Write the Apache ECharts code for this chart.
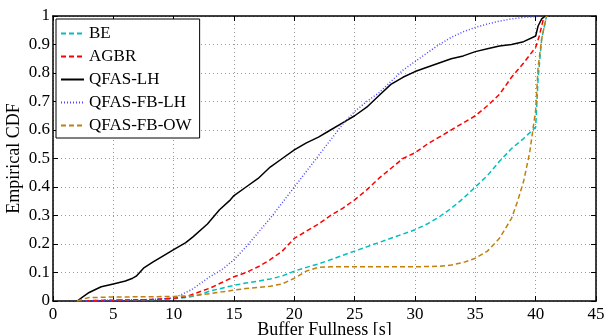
<!DOCTYPE html>
<html>
<head>
<meta charset="utf-8">
<script src="https://cdn.jsdelivr.net/npm/echarts@6/dist/echarts.min.js"></script>
<style>
  html, body { margin: 0; padding: 0; background: #fff; }
  #chart { width: 606px; height: 335px; }
</style>
</head>
<body>
<div id="chart"></div>
<script>
// values
const xTicks = [0, 5, 10, 15, 20, 25, 30, 35, 40, 45];

const beX = [2, 5, 8, 10, 11, 12, 13, 14, 15, 16, 17, 18, 19, 20, 21, 22, 23, 24, 25, 26, 27, 28, 29, 30, 31, 32, 33, 34, 35, 36, 37, 38, 39, 40, 40.2, 40.5, 40.9];
const beY = [0, 0.002, 0.004, 0.008, 0.012, 0.02, 0.035, 0.045, 0.055, 0.063, 0.07, 0.077, 0.088, 0.105, 0.118, 0.13, 0.145, 0.16, 0.175, 0.19, 0.205, 0.22, 0.235, 0.25, 0.27, 0.295, 0.325, 0.36, 0.40, 0.44, 0.49, 0.535, 0.57, 0.61, 0.78, 0.92, 1];

const agbrX = [2, 5, 8, 10, 11, 12, 13, 14, 15, 16, 17, 18, 19, 20, 21, 22, 23, 24, 25, 26, 27, 28, 29, 30, 31, 32, 33, 34, 35, 36, 37, 38, 39, 40, 40.3, 40.7];
const agbrY = [0, 0.003, 0.005, 0.01, 0.015, 0.03, 0.045, 0.065, 0.085, 0.10, 0.12, 0.145, 0.175, 0.22, 0.245, 0.27, 0.30, 0.325, 0.355, 0.39, 0.43, 0.465, 0.50, 0.52, 0.55, 0.575, 0.60, 0.625, 0.65, 0.685, 0.725, 0.785, 0.835, 0.89, 0.93, 1];

const lhX = [2, 2.5, 3, 3.6, 4, 5, 6, 6.6, 6.9, 7.5, 8.3, 9, 10, 11, 11.6, 12.8, 13.8, 14.7, 15, 16, 17, 18, 19, 20, 21, 22, 23, 24, 25, 26, 27, 28, 29, 30, 31, 32, 33, 34, 35, 36, 37, 38, 39, 40, 40.2, 40.5, 40.8];
const lhY = [0, 0.015, 0.03, 0.042, 0.05, 0.06, 0.07, 0.08, 0.087, 0.115, 0.137, 0.155, 0.18, 0.205, 0.225, 0.27, 0.32, 0.355, 0.37, 0.40, 0.43, 0.47, 0.50, 0.53, 0.555, 0.575, 0.60, 0.625, 0.65, 0.68, 0.72, 0.76, 0.785, 0.805, 0.82, 0.835, 0.85, 0.86, 0.875, 0.885, 0.895, 0.90, 0.91, 0.93, 0.965, 0.99, 1];

const fbLhX = [2, 5, 8, 10, 10.5, 11, 11.5, 12, 13, 14, 15, 16, 17, 18, 19, 20, 21, 22, 23, 24, 25, 26, 27, 28, 29, 30, 31, 32, 33, 34, 35, 36, 37, 38, 39, 40, 40.3];
const fbLhY = [0, 0.003, 0.005, 0.01, 0.02, 0.03, 0.04, 0.055, 0.085, 0.11, 0.145, 0.19, 0.24, 0.29, 0.345, 0.40, 0.455, 0.51, 0.565, 0.62, 0.665, 0.70, 0.73, 0.77, 0.81, 0.84, 0.87, 0.90, 0.925, 0.945, 0.96, 0.972, 0.982, 0.99, 0.995, 0.998, 1];

const fbOwX = [2, 2.5, 3, 5, 8, 10, 11, 12, 13, 14, 15, 16, 17, 18, 19, 20, 21, 22, 23, 25, 28, 30, 32, 33, 34, 35, 36, 37, 38, 38.5, 39, 39.5, 40, 40.2, 40.5, 40.9];
const fbOwY = [0, 0.007, 0.012, 0.014, 0.015, 0.016, 0.018, 0.02, 0.026, 0.032, 0.038, 0.044, 0.048, 0.052, 0.06, 0.08, 0.105, 0.118, 0.12, 0.12, 0.12, 0.12, 0.122, 0.126, 0.135, 0.15, 0.175, 0.22, 0.29, 0.35, 0.42, 0.52, 0.67, 0.82, 0.92, 1];

const seriesDefs = [
  { name: 'BE', xs: beX, ys: beY, color: '#00bfbf', type: [5, 3], width: 1.5 },
  { name: 'AGBR', xs: agbrX, ys: agbrY, color: '#ff0000', type: [5, 3], width: 1.5 },
  { name: 'QFAS-LH', xs: lhX, ys: lhY, color: '#000000', type: 'solid', width: 1.5 },
  { name: 'QFAS-FB-LH', xs: fbLhX, ys: fbLhY, color: '#4848ff', type: [1, 2], width: 1.5 },
  { name: 'QFAS-FB-OW', xs: fbOwX, ys: fbOwY, color: '#bf8010', type: [5, 3], width: 1.5 },
];

const font = 'Liberation Serif, Times New Roman, serif';

const gridLine = { show: true, lineStyle: { color: '#999', type: [1, 3], width: 1 } };
const boxLine = { show: true, onZero: false, lineStyle: { color: '#000', width: 1.5 } };
const tick = { show: true, inside: true, length: 5, lineStyle: { color: '#000', width: 1 } };

const chart = echarts.init(document.getElementById('chart'));

chart.setOption({
  animation: false,
  backgroundColor: '#fff',
  grid: { left: 53, right: 10, top: 16, bottom: 34, outerBoundsMode: 'none', containLabel: false },
  legend: {
    orient: 'vertical',
    left: 56,
    top: 19,
    padding: [6, 8, 4, 4],
    itemWidth: 23,
    itemHeight: 14,
    itemGap: 6,
    borderColor: '#000',
    borderWidth: 1,
    borderRadius: 0,
    backgroundColor: '#fff',
    itemStyle: { opacity: 0 },
    textStyle: { fontFamily: font, fontSize: 17, color: '#000' },
    data: seriesDefs.map((s) => s.name),
  },
  xAxis: [
    {
      type: 'value', min: 0, max: 45, interval: 5,
      name: 'Buffer Fullness [s]', nameLocation: 'middle', nameGap: 20, nameMoveOverlap: false,
      nameTextStyle: { fontFamily: font, fontSize: 18, color: '#000' },
      axisLine: boxLine, axisTick: tick, splitLine: gridLine,
      axisLabel: { fontFamily: font, fontSize: 17, color: '#000', margin: 5 },
    },
    {
      type: 'value', position: 'top', min: 0, max: 45, interval: 5,
      axisLine: boxLine, axisTick: tick, splitLine: { show: false },
      axisLabel: { show: false },
    },
  ],
  yAxis: [
    {
      type: 'value', min: 0, max: 1, interval: 0.1,
      name: 'Empirical CDF', nameLocation: 'middle', nameGap: 30, nameMoveOverlap: false,
      nameTextStyle: { fontFamily: font, fontSize: 18, color: '#000' },
      axisLine: boxLine, axisTick: tick, splitLine: gridLine,
      axisLabel: {
        fontFamily: font, fontSize: 17, color: '#000', margin: 3,
        formatter: (v) => (v === 0 || v === 1) ? String(v) : v.toFixed(1),
      },
    },
    {
      type: 'value', position: 'right', min: 0, max: 1, interval: 0.1,
      axisLine: boxLine, axisTick: tick, splitLine: { show: false },
      axisLabel: { show: false },
    },
  ],
  series: seriesDefs.map((s) => ({
    name: s.name,
    type: 'line',
    symbol: 'none',
    data: s.xs.map((x, i) => [x, s.ys[i]]),
    itemStyle: { color: s.color },
    lineStyle: { color: s.color, type: s.type, width: s.width },
  })),
});
</script>
</body>
</html>
